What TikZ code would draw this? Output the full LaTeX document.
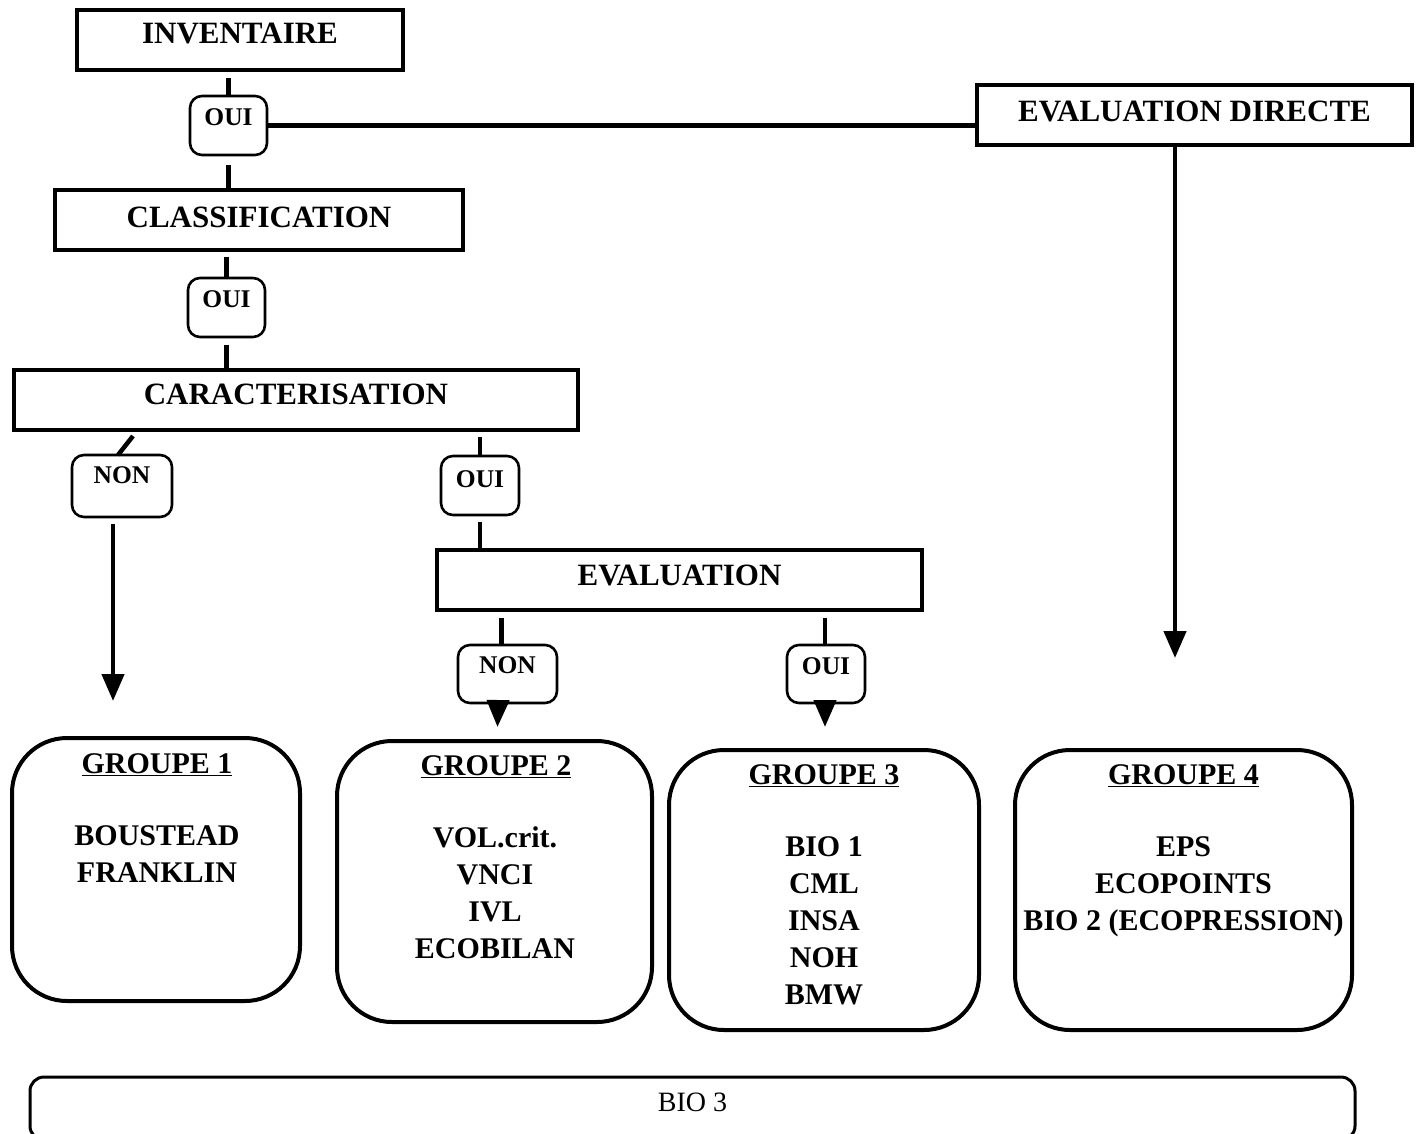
\documentclass[tikz,border=0pt]{standalone}
\usepackage{fontspec}
\setmainfont{Liberation Serif}
\usetikzlibrary{arrows.meta,calc}
\begin{document}
\begin{tikzpicture}[x=1pt,y=-1pt,
  every node/.append style={outer sep=0pt},
  boxA/.style={draw,line width=3.5pt,inner sep=0pt,anchor=north,
    font=\fontsize{31}{31}\selectfont\bfseries},
  lab/.style={draw,line width=2.6pt,rounded corners=12pt,inner sep=0pt,anchor=north,
    font=\fontsize{25.5}{25.5}\selectfont\bfseries},
  grp/.style={draw,line width=4pt,rounded corners=55pt,inner sep=0pt,anchor=north west},
  gtxt/.style={inner sep=0pt,anchor=base,font=\fontsize{30}{30}\selectfont\bfseries},
  conn/.style={line width=4.5pt},
  arr/.style={line width=4.5pt,-{Triangle[width=22pt,length=27pt]}},
]
\useasboundingbox (0,0) rectangle (1420,1133);
\fill[white] (0,0) rectangle (1420,1133);

% decision chain
\node[boxA, minimum width=326pt, text height=33pt, text depth=27pt] (inv) at (240,10) {INVENTAIRE};
\node[lab, minimum width=77pt, text height=29pt, text depth=30pt] (oui1) at (228.5,96) {OUI};
\node[boxA, minimum width=435pt, text height=36pt, text depth=24pt] (ed) at (1194.5,85) {EVALUATION DIRECTE};
\node[boxA, minimum width=408pt, text height=37pt, text depth=23pt] (cls) at (259,190) {CLASSIFICATION};
\node[lab, minimum width=77pt, text height=29pt, text depth=30pt] (oui2) at (226.5,278) {OUI};
\node[boxA, minimum width=564pt, text height=34pt, text depth=26pt] (car) at (296,370) {CARACTERISATION};
\node[lab, minimum width=100pt, text height=28pt, text depth=34pt] (non1) at (122,455) {NON};
\node[lab, minimum width=78pt, text height=31pt, text depth=28pt] (oui3) at (480,456) {OUI};
\node[boxA, minimum width=485pt, text height=35pt, text depth=25pt] (eval) at (679.5,550) {EVALUATION};
\node[lab, minimum width=99pt, text height=28pt, text depth=30pt] (non2) at (507.5,645) {NON};
\node[lab, minimum width=78pt, text height=29pt, text depth=29pt] (oui4) at (826,645) {OUI};

% groups
\node[grp, minimum width=288pt, minimum height=263pt] (g1) at (12,738) {};
\node[grp, minimum width=315pt, minimum height=281pt] (g2) at (337,741) {};
\node[grp, minimum width=310pt, minimum height=280pt] (g3) at (669,750) {};
\node[grp, minimum width=337pt, minimum height=280pt] (g4) at (1015,750) {};

\node[gtxt] (g1t) at (157,773) {\underline{GROUPE 1}};
\node[gtxt] (g2t) at (496,775) {\underline{GROUPE 2}};
\node[gtxt] (g3t) at (824,784) {\underline{GROUPE 3}};
\node[gtxt] (g4t) at (1183.5,784) {\underline{GROUPE 4}};

\foreach \t [count=\i] in {BOUSTEAD,FRANKLIN}
  \node[gtxt] (g1i\i) at (157,845+37*\i-37) {\t};
\foreach \t [count=\i] in {VOL.crit.,VNCI,IVL,ECOBILAN}
  \node[gtxt] (g2i\i) at (495,847+37*\i-37) {\t};
\foreach \t [count=\i] in {BIO 1,CML,INSA,NOH,BMW}
  \node[gtxt] (g3i\i) at (824,856+37*\i-37) {\t};
\foreach \t [count=\i] in {EPS,ECOPOINTS,BIO 2 (ECOPRESSION)}
  \node[gtxt] (g4i\i) at (1183.5,856+37*\i-37) {\t};

% BIO 3
\node[draw, line width=3pt, rounded corners=14pt, inner sep=0pt, anchor=north west,
  minimum width=1325pt, text height=34pt, text depth=29pt,
  font=\fontsize{28}{28}\selectfont] (bio3) at (30,1077) {BIO 3};

% connectors
\draw[conn] ($(inv.south -| oui1.north)+(0,8)$) -- (oui1.north);
\draw[conn] (oui1.east) -- (oui1.east -| ed.west);
\draw[conn] ($(oui1.south)+(0,10)$) -- (cls.north -| oui1.south);
\draw[conn] ($(cls.south -| oui2.north)+(0,7)$) -- (oui2.north);
\draw[conn] ($(oui2.south)+(0,8)$) -- (car.north -| oui2.south);
\draw[conn] ($(car.south -| non1.north)+(11,6)$) -- ($(non1.north)+(-4,0)$);
\draw[conn] ($(car.south -| oui3.north)+(0,7)$) -- (oui3.north);
\draw[conn] ($(oui3.south)+(0,7)$) -- (eval.north -| oui3.south);
\draw[arr] ($(non1.south)+(-9,7)$) -- ($(g1.north)+(-43,-37)$);
\draw[conn] ($(eval.south -| non2.north)+(-6,8)$) -- ($(non2.north)+(-6,0)$);
\draw[conn] ($(eval.south -| oui4.north)+(-1,8)$) -- ($(oui4.north)+(-1,0)$);
\draw[arr] ($(non2.south)+(-9.5,0)$) -- ($(g2.north)+(3,-14)$);
\draw[arr] ($(oui4.south)+(-1,0)$) -- ($(g3.north)+(1,-23)$);
\draw[arr] ($(ed.south)+(-19.5,0)$) -- ($(g4.north)+(-8.5,-92)$);
\end{tikzpicture}
\end{document}
